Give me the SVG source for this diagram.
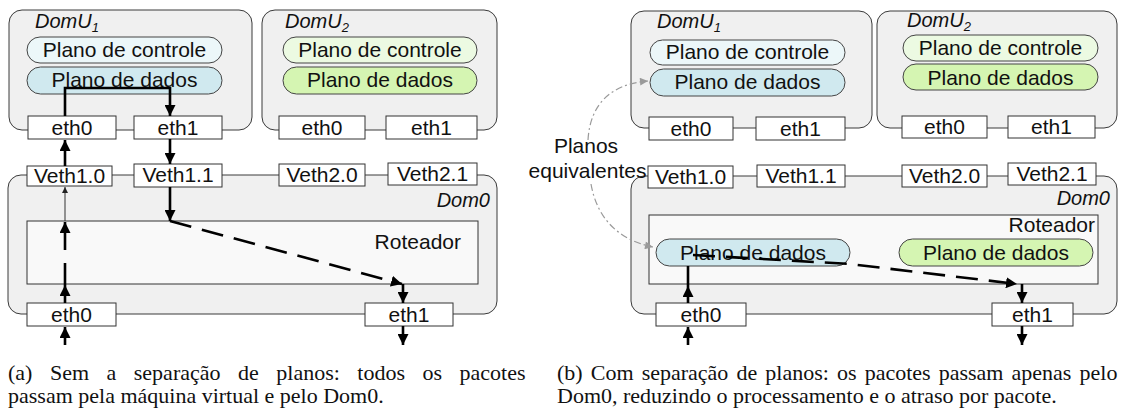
<svg xmlns="http://www.w3.org/2000/svg" width="1129" height="410" viewBox="0 0 1129 410">
<style>
.box{fill:#f0f0f0;stroke:#3a3a3a;stroke-width:1}
.port{fill:#fff;stroke:#333;stroke-width:1}
.router{fill:#f9f9f9;stroke:#333;stroke-width:1}
.cb{fill:#ecf7f9;stroke:#444;stroke-width:1}
.db{fill:#d0e9ef;stroke:#444;stroke-width:1}
.cg{fill:#ecfae2;stroke:#444;stroke-width:1}
.dg{fill:#d5f5b2;stroke:#444;stroke-width:1}
.t{font-family:"Liberation Sans",Arial,sans-serif;font-size:21px;fill:#111;text-anchor:middle}
.lbl{font-family:"Liberation Sans",Arial,sans-serif;font-size:20px;font-style:italic;fill:#111}
.cap{font-family:"Liberation Serif","Times New Roman",serif;font-size:22px;fill:#111}
.f{stroke:#000;stroke-width:2.6;fill:none}
.d{stroke-dasharray:22 11}
.thin{stroke:#333;stroke-width:1;fill:none}
.eq{stroke:#9a9a9a;stroke-width:1.2;fill:none;stroke-dasharray:7 3 2 3}
</style>
<defs>
<marker id="ah" markerUnits="userSpaceOnUse" markerWidth="11" markerHeight="11" viewBox="0 0 10 10" refX="10" refY="5" orient="auto"><path d="M0,0 L10,5 L0,10 z" fill="#000"/></marker>
<marker id="as" markerUnits="userSpaceOnUse" markerWidth="7" markerHeight="6" viewBox="0 0 10 10" refX="10" refY="5" orient="auto"><path d="M0,0 L10,5 L0,10 z" fill="#222"/></marker>
<marker id="ag" markerUnits="userSpaceOnUse" markerWidth="9" markerHeight="8" viewBox="0 0 10 10" refX="10" refY="5" orient="auto"><path d="M0,0 L10,5 L0,10 z" fill="#9a9a9a"/></marker>
</defs>

<!-- Panel (a) -->
<g id="a-domu1">
<rect class="box" x="9" y="10" width="243" height="120" rx="13"/>
<text class="lbl" x="35" y="28">DomU<tspan font-size="13" dy="4">1</tspan></text>
<rect class="cb" x="27" y="37" width="195" height="26" rx="13"/>
<text class="t" x="124.5" y="57">Plano de controle</text>
<rect class="db" x="27" y="67" width="195" height="27" rx="13.5"/>
<text class="t" x="124.5" y="87">Plano de dados</text>
</g>
<g id="a-domu1-eth0"><rect class="port" x="28" y="116" width="88" height="23"/><text class="t" x="72" y="135">eth0</text></g>
<g id="a-domu1-eth1"><rect class="port" x="134" y="116" width="88" height="23"/><text class="t" x="178" y="135">eth1</text></g>

<g id="a-domu2">
<rect class="box" x="262" y="10" width="235" height="120" rx="13"/>
<text class="lbl" x="285" y="28">DomU<tspan font-size="13" dy="4">2</tspan></text>
<rect class="cg" x="283" y="37" width="194" height="26" rx="13"/>
<text class="t" x="380" y="57">Plano de controle</text>
<rect class="dg" x="283" y="67" width="194" height="27" rx="13.5"/>
<text class="t" x="380" y="87">Plano de dados</text>
</g>
<g id="a-domu2-eth0"><rect class="port" x="279" y="116" width="86" height="23"/><text class="t" x="322" y="135">eth0</text></g>
<g id="a-domu2-eth1"><rect class="port" x="386" y="116" width="91" height="23"/><text class="t" x="431.5" y="135">eth1</text></g>

<g id="a-dom0">
<rect class="box" x="8" y="175" width="489" height="139" rx="13"/>
<text class="lbl" x="490" y="207" text-anchor="end">Dom0</text>
</g>
<g id="a-router">
<rect class="router" x="27" y="221" width="451" height="63"/>
<text class="t" x="461" y="249" text-anchor="end" style="text-anchor:end">Roteador</text>
</g>
<g id="a-veth10"><rect class="port" x="27" y="166" width="85" height="20"/><text class="t" x="69.5" y="183">Veth1.0</text></g>
<g id="a-veth11"><rect class="port" x="134" y="164" width="88" height="23"/><text class="t" x="178" y="182">Veth1.1</text></g>
<g id="a-veth20"><rect class="port" x="279" y="164" width="86" height="22"/><text class="t" x="322" y="182">Veth2.0</text></g>
<g id="a-veth21"><rect class="port" x="388" y="163" width="89" height="22"/><text class="t" x="432.5" y="181">Veth2.1</text></g>
<g id="a-dom0-eth0"><rect class="port" x="27" y="303" width="89" height="23"/><text class="t" x="71.5" y="322">eth0</text></g>
<g id="a-dom0-eth1"><rect class="port" x="365" y="303" width="88" height="23"/><text class="t" x="409" y="322">eth1</text></g>

<!-- Panel (b) -->
<g id="b-domu1">
<rect class="box" x="631" y="11" width="241" height="117" rx="13"/>
<text class="lbl" x="657" y="28">DomU<tspan font-size="13" dy="4">1</tspan></text>
<rect class="cb" x="650" y="40" width="195" height="25" rx="12.5"/>
<text class="t" x="747.5" y="59">Plano de controle</text>
<rect class="db" x="650" y="69" width="195" height="27" rx="13.5"/>
<text class="t" x="747.5" y="89">Plano de dados</text>
</g>
<g id="b-domu1-eth0"><rect class="port" x="649" y="117" width="84" height="23"/><text class="t" x="691" y="136">eth0</text></g>
<g id="b-domu1-eth1"><rect class="port" x="756" y="117" width="89" height="23"/><text class="t" x="800.5" y="136">eth1</text></g>

<g id="b-domu2">
<rect class="box" x="877" y="11" width="240" height="117" rx="13"/>
<text class="lbl" x="907" y="27">DomU<tspan font-size="13" dy="4">2</tspan></text>
<rect class="cg" x="903" y="35" width="195" height="26" rx="13"/>
<text class="t" x="1000.5" y="55">Plano de controle</text>
<rect class="dg" x="903" y="64" width="195" height="26" rx="13"/>
<text class="t" x="1000.5" y="85">Plano de dados</text>
</g>
<g id="b-domu2-eth0"><rect class="port" x="902" y="116" width="85" height="22"/><text class="t" x="944.5" y="134">eth0</text></g>
<g id="b-domu2-eth1"><rect class="port" x="1008" y="116" width="87" height="22"/><text class="t" x="1051.5" y="134">eth1</text></g>

<g id="b-dom0">
<rect class="box" x="631" y="176" width="486" height="138" rx="13"/>
<text class="lbl" x="1110" y="205" text-anchor="end">Dom0</text>
</g>
<g id="b-router">
<rect class="router" x="649" y="215" width="449" height="69"/>
<text class="t" x="1095" y="232" style="text-anchor:end">Roteador</text>
<rect class="db" x="656" y="239" width="194" height="27" rx="13.5"/>
<text class="t" x="753" y="260">Plano de dados</text>
<rect class="dg" x="899" y="239" width="194" height="27" rx="13.5"/>
<text class="t" x="996" y="260">Plano de dados</text>
</g>
<g id="b-veth10"><rect class="port" x="648" y="166" width="85" height="22"/><text class="t" x="690.5" y="184">Veth1.0</text></g>
<g id="b-veth11"><rect class="port" x="757" y="165" width="88" height="22"/><text class="t" x="801" y="183">Veth1.1</text></g>
<g id="b-veth20"><rect class="port" x="902" y="165" width="85" height="22"/><text class="t" x="944.5" y="183">Veth2.0</text></g>
<g id="b-veth21"><rect class="port" x="1008" y="163" width="88" height="22"/><text class="t" x="1052" y="181">Veth2.1</text></g>
<g id="b-dom0-eth0"><rect class="port" x="656" y="303" width="90" height="23"/><text class="t" x="701" y="322">eth0</text></g>
<g id="b-dom0-eth1"><rect class="port" x="992" y="303" width="81" height="23"/><text class="t" x="1032.5" y="322">eth1</text></g>

<g id="b-label">
<text class="t" x="586" y="153">Planos</text>
<text class="t" x="587.5" y="178">equivalentes</text>
</g>

<g id="connectors">
<!-- (a) -->
<line class="f" x1="65" y1="345" x2="65" y2="327" marker-end="url(#ah)"/>
<line class="f" x1="65" y1="303" x2="65" y2="285" marker-end="url(#ah)"/>
<line class="f" x1="65" y1="285" x2="65" y2="263"/>
<line class="f" x1="65" y1="250" x2="65" y2="222" marker-end="url(#ah)"/>
<line class="thin" x1="65" y1="221" x2="65" y2="187" marker-end="url(#as)"/>
<line class="f" x1="65" y1="166" x2="65" y2="140" marker-end="url(#ah)"/>
<polyline class="f" points="65,116 65,88 170,88 170,116" marker-end="url(#ah)"/>
<line class="f" x1="170" y1="139" x2="170" y2="164" marker-end="url(#ah)"/>
<line class="f" x1="170" y1="187" x2="170" y2="221" marker-end="url(#ah)"/>
<line class="f d" x1="170" y1="221" x2="402" y2="284" marker-end="url(#ah)"/>
<line class="f" x1="403" y1="284" x2="403" y2="303" marker-end="url(#ah)"/>
<line class="f" x1="403" y1="326" x2="403" y2="345" marker-end="url(#ah)"/>
<!-- (b) -->
<line class="f" x1="688" y1="345" x2="688" y2="327" marker-end="url(#ah)"/>
<line class="f" x1="688" y1="303" x2="688" y2="286" marker-end="url(#ah)"/>
<line class="f" x1="688" y1="286" x2="688" y2="266"/>
<polyline class="f d" points="693,255 850,264 1017,284" marker-end="url(#ah)"/>
<line class="f" x1="1022" y1="284" x2="1022" y2="303" marker-end="url(#ah)"/>
<line class="f" x1="1022" y1="326" x2="1022" y2="345" marker-end="url(#ah)"/>
<path class="eq" d="M588 140 C590 105 610 84 648 81" marker-end="url(#ag)"/>
<path class="eq" d="M591 184 C597 218 618 240 653 247" marker-end="url(#ag)"/>
</g>

<g id="captions">
<text class="cap" x="8" y="380" word-spacing="12">(a) Sem a separação de planos: todos os pacotes</text>
<text class="cap" x="8" y="403">passam pela máquina virtual e pelo Dom0.</text>
<text class="cap" x="557" y="380" word-spacing="2.6">(b) Com separação de planos: os pacotes passam apenas pelo</text>
<text class="cap" x="557" y="403">Dom0, reduzindo o processamento e o atraso por pacote.</text>
</g>
</svg>
